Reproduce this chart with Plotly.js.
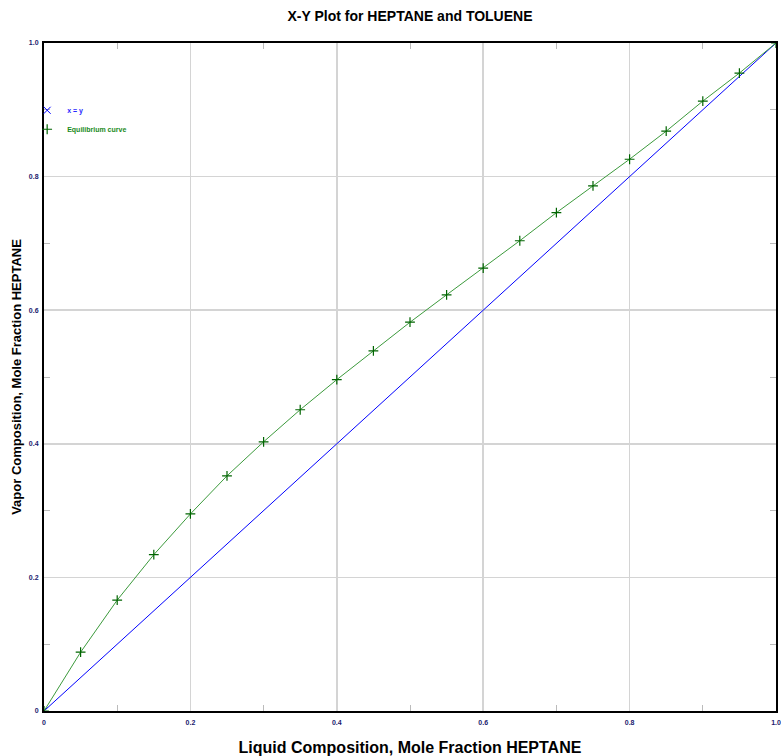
<!DOCTYPE html>
<html>
<head>
<meta charset="utf-8">
<script src="https://cdn.plot.ly/plotly-3.0.1.min.js"></script>
<style>html,body{margin:0;padding:0;background:#fff;}#chart{width:781px;height:756px;}</style>
</head>
<body>
<div id="chart"></div>
<script>
const diagX = [0, 1];
const diagY = [0, 1];
const eqX = [0, 0.05, 0.1, 0.15, 0.2, 0.25, 0.3, 0.35, 0.4, 0.45, 0.5, 0.55, 0.6, 0.65, 0.7, 0.75, 0.8, 0.85, 0.9, 0.95, 1.0];
const eqY = [0, 0.088, 0.166, 0.234, 0.295, 0.352, 0.403, 0.451, 0.496, 0.539, 0.582, 0.623, 0.663, 0.704, 0.746, 0.786, 0.826, 0.868, 0.913, 0.955, 1.0];
const seriesNames = ['x = y', 'Equilibrium curve'];

const blue = '#0000ff';
const green = '#006400';

const traces = [
  {x: diagX, y: diagY, mode: 'lines+markers', showlegend: false,
   line: {color: blue, width: 1}, marker: {symbol: 'x-thin-open', size: 7, color: blue, line: {color: blue, width: 1}}},
  {x: eqX, y: eqY, mode: 'lines+markers', showlegend: false,
   line: {color: '#3c9a3c', width: 1}, marker: {symbol: 'cross-thin-open', size: 7, color: green, line: {color: green, width: 1.2}}},
  {x: [null], y: [null], mode: 'markers', name: '<span style="color:#2828ff">' + seriesNames[0] + '</span>',
   marker: {symbol: 'x-thin-open', size: 7, color: blue, line: {color: blue, width: 1}}},
  {x: [null], y: [null], mode: 'markers', name: '<span style="color:#1a8a1a">' + seriesNames[1] + '</span>',
   marker: {symbol: 'cross-thin-open', size: 7, color: green, line: {color: green, width: 1.2}}}
];

const axisBase = {
  range: [0, 1], dtick: 0.2, tick0: 0, tickformat: '.1f', labelalias: {'0.0': '0'},
  showgrid: true, gridcolor: '#d4d4d4', gridwidth: 1.5,
  zeroline: false, showline: true, linecolor: '#000', linewidth: 2, mirror: 'allticks',
  ticks: '', tickfont: {family: 'Arial, Liberation Sans', size: 7, color: '#1a1a6e', weight: 'bold'},
  minor: {dtick: 0.1, tick0: 0, ticks: 'inside', ticklen: 6, tickcolor: '#bbbbbb', tickwidth: 1, showgrid: false}
};

const layout = {
  width: 781, height: 756,
  margin: {l: 44, r: 5, t: 43, b: 45},
  paper_bgcolor: '#fff', plot_bgcolor: '#fff',
  title: {text: '<b>X-Y Plot for HEPTANE and TOLUENE</b>', x: 0.525, xanchor: 'center', y: 0.985, yanchor: 'top',
          font: {family: 'Arial, Liberation Sans', size: 14, color: '#000'}},
  xaxis: Object.assign({}, axisBase, {
    ticklabelstandoff: 4,
    title: {text: '<b>Liquid Composition, Mole Fraction HEPTANE</b>', standoff: 16,
            font: {family: 'Arial, Liberation Sans', size: 16, color: '#000'}}
  }),
  yaxis: Object.assign({}, axisBase, {
    ticklabelstandoff: 2,
    title: {text: '<b>Vapor Composition, Mole Fraction HEPTANE</b>', standoff: 4,
            font: {family: 'Arial, Liberation Sans', size: 13, color: '#000'}}
  }),
  showlegend: true,
  legend: {x: -0.023, y: 0.921, xanchor: 'left', yanchor: 'top', bgcolor: 'rgba(0,0,0,0)',
           font: {family: 'Arial, Liberation Sans', size: 7, weight: 'bold'}, tracegroupgap: 0, itemwidth: 30}
};

Plotly.newPlot('chart', traces, layout, {displayModeBar: false, staticPlot: true});
</script>
</body>
</html>
